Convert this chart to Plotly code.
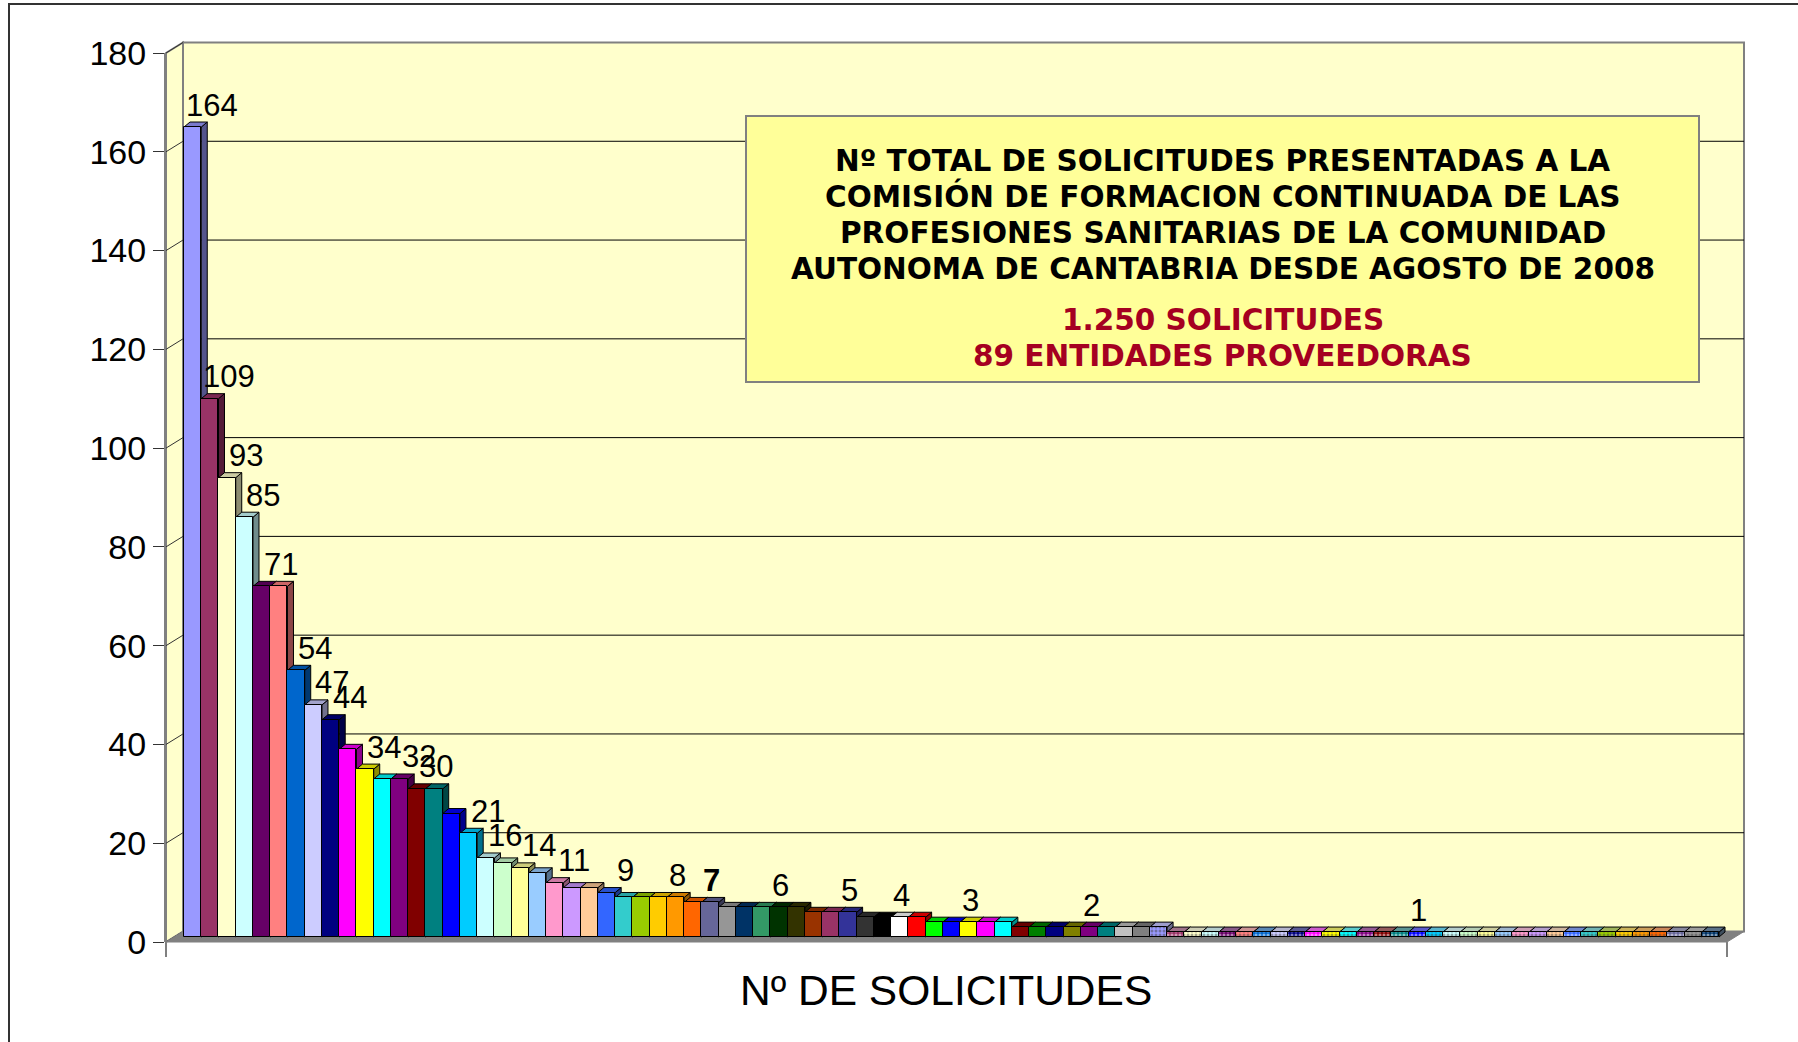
import plotly.graph_objects as go

W, H = 1798, 1042

# N. de solicitudes por entidad proveedora (89 entidades, 1.250 solicitudes)
solicitudes = [164, 109, 93, 85, 71, 71, 54, 47, 44, 38,
               34, 32, 32, 30, 30, 25, 21, 16, 15, 14,
               13, 11, 10, 10, 9, 8, 8, 8, 8, 7,
               7, 6, 6, 6, 6, 6, 5, 5, 5, 4,
               4, 4, 4, 3, 3, 3, 3, 3, 2, 2,
               2, 2, 2, 2, 2, 2, 2, 1, 1, 1,
               1, 1, 1, 1, 1, 1, 1, 1, 1, 1,
               1, 1, 1, 1, 1, 1, 1, 1, 1, 1,
               1, 1, 1, 1, 1, 1, 1, 1, 1]
entidades = list(range(1, len(solicitudes) + 1))

# barras que llevan etiqueta de valor
barras_etiqueta = [1, 2, 3, 4, 5, 7, 8, 9, 11, 13, 14, 17, 18, 20, 22, 25, 28, 30, 34, 38, 41, 45, 52, 71]
etiquetas_negrita = [7]

y_ticks = [0, 20, 40, 60, 80, 100, 120, 140, 160, 180]

titulo_lineas = ["Nº TOTAL DE SOLICITUDES PRESENTADAS A LA",
                 "COMISIÓN DE FORMACION CONTINUADA DE LAS",
                 "PROFESIONES SANITARIAS DE LA COMUNIDAD",
                 "AUTONOMA DE CANTABRIA DESDE AGOSTO DE 2008"]
resumen_lineas = ["1.250 SOLICITUDES", "89 ENTIDADES PROVEEDORAS"]
titulo_x = "Nº DE SOLICITUDES"

# paleta de relleno de Excel (las que pasan de 56 llevan trama)
paleta = ["#9999FF", "#993366", "#FFFFCC", "#CCFFFF", "#660066", "#FF8080", "#0066CC", "#CCCCFF",
          "#000080", "#FF00FF", "#FFFF00", "#00FFFF", "#800080", "#800000", "#008080", "#0000FF",
          "#00CCFF", "#CCFFFF", "#CCFFCC", "#FFFF99", "#99CCFF", "#FF99CC", "#CC99FF", "#FFCC99",
          "#3366FF", "#33CCCC", "#99CC00", "#FFCC00", "#FF9900", "#FF6600", "#666699", "#969696",
          "#003366", "#339966", "#003300", "#333300", "#993300", "#993366", "#333399", "#333333",
          "#000000", "#FFFFFF", "#FF0000", "#00FF00", "#0000FF", "#FFFF00", "#FF00FF", "#00FFFF",
          "#800000", "#008000", "#000080", "#808000", "#800080", "#008080", "#C0C0C0", "#808080"]


def mix(c, f, base=(0, 0, 0)):
  r, g, b = int(c[1:3], 16), int(c[3:5], 16), int(c[5:7], 16)
  r = int(r * f + base[0] * (1 - f))
  g = int(g * f + base[1] * (1 - f))
  b = int(b * f + base[2] * (1 - f))
  return "#%02X%02X%02X" % (r, g, b)


colores, tramas = [], []
for i in range(len(solicitudes)):
  colores.append(paleta[i % len(paleta)])
  tramas.append("." if i >= len(paleta) else "")

## geometria (pixeles de la imagen)
AX_L, AX_R = 166, 1727          # eje frontal
Y0_PX, Y180_PX = 942, 53         # marcas 0 y 180
WALL_DX, WALL_DY = 17, 10.5      # desplazamiento de la pared del fondo
BAR_L, BAR_R = 184, 1719
BAR_PX = (BAR_R - BAR_L) / len(solicitudes)
S = (Y0_PX - Y180_PX) / 180.0    # px por unidad
BAR_BASE_SHIFT = 5               # las barras se apoyan 5 px por encima del 0


def px(x):
  return x / W


def py(y):
  return 1 - y / H


def ty(v):
  return Y0_PX - v * S


x0 = 0.5 - (BAR_L - AX_L) / BAR_PX
x1 = x0 + (AX_R - AX_L) / BAR_PX
off = BAR_BASE_SHIFT / S

fig = go.Figure()
fig.add_trace(go.Bar(x=entidades, y=solicitudes, width=1,
                     marker=dict(color=colores, line=dict(color="black", width=1),
                                 pattern=dict(shape=tramas, fgcolor="white", size=4,
                                              solidity=0.45, fillmode="overlay")),
                     hoverinfo="x+y", showlegend=False))

shapes = []
linea_gris = dict(color="#808080", width=2)
# pared del fondo
shapes.append(dict(type="rect", xref="paper", yref="paper", layer="below",
                   x0=px(AX_L + WALL_DX), x1=px(AX_R + WALL_DX),
                   y0=py(ty(0) - WALL_DY), y1=py(ty(180) - WALL_DY),
                   fillcolor="#FFFFCC", line=linea_gris))
# pared lateral
shapes.append(dict(type="path", xref="paper", yref="paper", layer="below",
                   path="M %f,%f L %f,%f L %f,%f L %f,%f Z" % (
                     px(AX_L), py(ty(0)), px(AX_L), py(ty(180)),
                     px(AX_L + WALL_DX), py(ty(180) - WALL_DY), px(AX_L + WALL_DX), py(ty(0) - WALL_DY)),
                   fillcolor="#FFFFCC", line=linea_gris))
# lineas de division
for v in y_ticks:
  if 0 < v < 180:
    shapes.append(dict(type="line", xref="paper", yref="paper", layer="below",
                       x0=px(AX_L + WALL_DX), x1=px(AX_R + WALL_DX),
                       y0=py(ty(v) - WALL_DY), y1=py(ty(v) - WALL_DY),
                       line=dict(color="black", width=1)))
  shapes.append(dict(type="line", xref="paper", yref="paper", layer="below",
                     x0=px(AX_L), x1=px(AX_L + WALL_DX),
                     y0=py(ty(v)), y1=py(ty(v) - WALL_DY),
                     line=dict(color="#333333", width=1)))
# suelo
shapes.append(dict(type="path", xref="paper", yref="paper", layer="below",
                   path="M %f,%f L %f,%f L %f,%f L %f,%f Z" % (
                     px(AX_L), py(ty(0)), px(AX_R), py(ty(0)),
                     px(AX_R + WALL_DX), py(ty(0) - WALL_DY), px(AX_L + WALL_DX), py(ty(0) - WALL_DY)),
                   fillcolor="#808080", line=dict(color="#808080", width=1)))
for xe in (AX_L, AX_R):
  shapes.append(dict(type="line", xref="paper", yref="paper", layer="below",
                     x0=px(xe), x1=px(xe), y0=py(ty(0)), y1=py(ty(0) + 15), line=linea_gris))

# caras 3D de las barras
ddx = 6 / BAR_PX
ddy = 5 / S
for k, v, c, t in zip(entidades, solicitudes, colores, tramas):
  base = mix(c, 0.55, (255, 255, 255)) if t else c
  top = "M %f,%f L %f,%f L %f,%f L %f,%f Z" % (k - 0.5, v, k + 0.5, v, k + 0.5 + ddx, v + ddy, k - 0.5 + ddx, v + ddy)
  side = "M %f,%f L %f,%f L %f,%f L %f,%f Z" % (k + 0.5, 0, k + 0.5, v, k + 0.5 + ddx, v + ddy, k + 0.5 + ddx, ddy)
  shapes.append(dict(type="path", xref="x", yref="y", layer="below", path=side,
                     fillcolor=mix(base, 0.55), line=dict(color="black", width=1)))
  shapes.append(dict(type="path", xref="x", yref="y", layer="below", path=top,
                     fillcolor=mix(base, 0.8), line=dict(color="black", width=1)))

# cuadro del titulo
BOX = (746, 116, 1699, 382)
shapes.append(dict(type="rect", xref="paper", yref="paper",
                   x0=px(BOX[0]), x1=px(BOX[2]), y0=py(BOX[3]), y1=py(BOX[1]),
                   fillcolor="#FFFF99", line=dict(color="#808080", width=2)))
# marco exterior
shapes.append(dict(type="rect", xref="paper", yref="paper",
                   x0=px(9), x1=px(W + 20), y0=py(H + 20), y1=py(4),
                   line=dict(color="#333333", width=2)))

annotations = []
for k in barras_etiqueta:
  v = solicitudes[k - 1]
  txt = "<b>%d</b>" % v if v in etiquetas_negrita else str(v)
  annotations.append(dict(x=k, y=v, xref="x", yref="y", text=txt, showarrow=False,
                          xanchor="center", yanchor="middle",
                          xshift=19, yshift=22, font=dict(size=31, color="black")))

cx = (BOX[0] + BOX[2]) / 2
for i, linea in enumerate(titulo_lineas):
  annotations.append(dict(x=px(cx), y=py(160.5 + i * 36), xref="paper", yref="paper",
                          text="<b>%s</b>" % linea, showarrow=False,
                          xanchor="center", yanchor="middle",
                          font=dict(family="DejaVu Sans", size=29.5, color="black")))
for i, linea in enumerate(resumen_lineas):
  annotations.append(dict(x=px(cx), y=py(320 + i * 36), xref="paper", yref="paper",
                          text="<b>%s</b>" % linea, showarrow=False,
                          xanchor="center", yanchor="middle",
                          font=dict(family="DejaVu Sans", size=29.5, color="#A50021")))
annotations.append(dict(x=px((AX_L + AX_R) / 2), y=py(990), xref="paper", yref="paper",
                        text=titulo_x, showarrow=False, xanchor="center", yanchor="middle",
                        font=dict(size=42.5, color="black")))

fig.update_layout(
  width=W, height=H,
  margin=dict(l=0, r=0, t=0, b=0),
  paper_bgcolor="white", plot_bgcolor="rgba(0,0,0,0)",
  font=dict(family="Liberation Sans, Arial", color="black"),
  bargap=0, showlegend=False,
  xaxis=dict(domain=[px(AX_L), px(AX_R)], range=[x0, x1], showticklabels=False,
             showgrid=False, zeroline=False, showline=False, ticks=""),
  # las barras se apoyan 'off' unidades por encima de la marca del 0
  yaxis=dict(domain=[py(Y0_PX), py(Y180_PX)], range=[-off, 180 - off],
             tickvals=[v - off for v in y_ticks], ticktext=[str(v) for v in y_ticks],
             showgrid=False, zeroline=False, showline=True, linecolor="#808080", linewidth=2,
             ticks="outside", ticklen=11, tickcolor="#333333", tickwidth=1,
             tickfont=dict(size=34, color="black"), automargin=False),
  shapes=shapes, annotations=annotations,
)

fig.write_html("out.html", config={"displayModeBar": False},
               post_script="document.body.style.margin='0';")
